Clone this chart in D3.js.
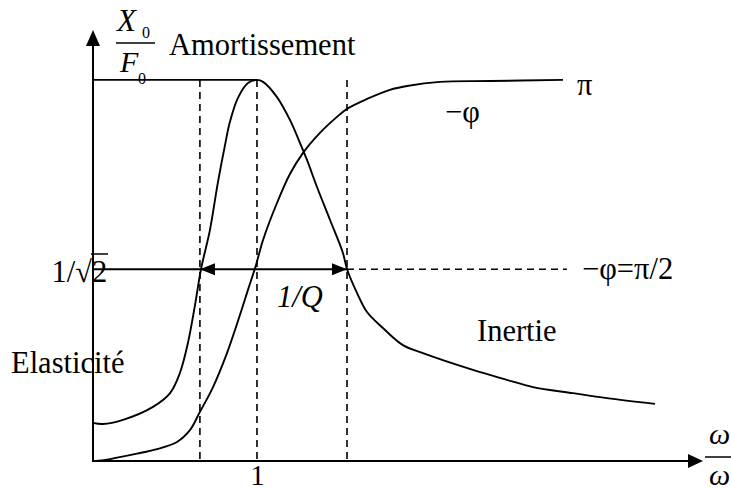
<!DOCTYPE html>
<html>
<head>
<meta charset="utf-8">
<script src="https://cdn.jsdelivr.net/npm/d3@7"></script>
<style>
  html, body { margin: 0; padding: 0; background: #fff; }
  svg { display: block; }
  text { font-family: "Liberation Serif", "Times New Roman", serif; fill: #000; }
</style>
</head>
<body>
<svg id="chart" width="731" height="490"></svg>
<script>
// Reduced frequency ω/ω0 and normalised response (amplitude X0/F0, phase −φ in units of π)
const amplitudeX = [0, 0.061, 0.183, 0.366, 0.470, 0.530, 0.579, 0.622, 0.659, 0.713, 0.762, 0.805, 0.835, 0.884, 0.945, 1.0,
                    1.037, 1.122, 1.201, 1.262, 1.305, 1.366, 1.445, 1.524, 1.549, 1.610, 1.671, 1.768, 1.890, 2.012, 2.317, 2.524, 2.683, 2.927, 3.134, 3.427];
const amplitudeY = [0.100, 0.097, 0.108, 0.142, 0.178, 0.231, 0.310, 0.409, 0.504, 0.606, 0.732, 0.829, 0.890, 0.953, 0.992, 1.0,
                    0.995, 0.955, 0.895, 0.835, 0.790, 0.719, 0.633, 0.546, 0.504, 0.441, 0.391, 0.349, 0.304, 0.283, 0.239, 0.213, 0.194, 0.178, 0.165, 0.150];
const phaseX = [0.018, 0.104, 0.287, 0.390, 0.512, 0.591, 0.652, 0.732, 0.817, 0.896, 0.945, 0.994, 1.037, 1.122, 1.201, 1.280, 1.384, 1.488, 1.549, 1.671, 1.811, 1.915, 2.116, 2.421, 2.866];
const phaseY = [0.0, 0.005, 0.021, 0.031, 0.050, 0.081, 0.129, 0.194, 0.283, 0.383, 0.449, 0.514, 0.580, 0.677, 0.753, 0.808, 0.861, 0.903, 0.924, 0.950, 0.974, 0.984, 0.995, 0.997, 1.0];
// Static level (low-frequency plateau), half-power level and the three marked frequencies
const plateauLevel = 1.0;
const halfPowerLevel = 0.503;
const markedFreqs = [0.652, 1.0, 1.549];   // ω1, ω0, ω2
const halfPowerDashEnd = 2.89;
const xTicks = [1];

const svg = d3.select("#chart");
const x = d3.scaleLinear().domain([0, 3.72]).range([93, 703]);
const y = d3.scaleLinear().domain([0, 1.131]).range([461, 30]);

const ink = "#000";
const line = d3.line().x(d => x(d[0])).y(d => y(d[1])).curve(d3.curveCatmullRom.alpha(0.5));

// arrowhead helper: triangle with tip at (tx, ty) pointing along direction (dx, dy)
function arrowHead(tx, ty, dx, dy, len = 15, half = 6) {
  const bx = tx - dx * len, by = ty - dy * len;
  const px = -dy * half, py = dx * half;
  return `M${tx},${ty}L${bx + px},${by + py}L${bx - px},${by - py}Z`;
}

// axes
svg.append("line").attr("x1", x(0)).attr("y1", y(0)).attr("x2", x(3.72) - 12).attr("y2", y(0))
  .attr("stroke", ink).attr("stroke-width", 2);
svg.append("path").attr("d", arrowHead(x(3.72), y(0), 1, 0, 15, 7)).attr("fill", ink);
svg.append("line").attr("x1", x(0)).attr("y1", y(0) + 1).attr("x2", x(0)).attr("y2", y(1.131) + 12)
  .attr("stroke", ink).attr("stroke-width", 2);
svg.append("path").attr("d", arrowHead(x(0), y(1.131), 0, -1, 16, 7)).attr("fill", ink);

// tick label on the frequency axis
const xAxis = d3.axisBottom(x).tickValues(xTicks).tickSize(0).tickPadding(3).tickFormat(d3.format("d"));
const gx = svg.append("g").attr("transform", `translate(0,${y(0)})`).call(xAxis);
gx.select(".domain").remove();
gx.selectAll("text").attr("font-size", 29).attr("font-family", "Liberation Serif").attr("fill", ink);

// dashed verticals at ω1, ω0, ω2
svg.selectAll("line.vdash").data(markedFreqs).enter().append("line")
  .attr("class", "vdash")
  .attr("x1", d => x(d)).attr("x2", d => x(d))
  .attr("y1", y(plateauLevel)).attr("y2", y(0))
  .attr("stroke", ink).attr("stroke-width", 1.6).attr("stroke-dasharray", "7,5");

// plateau line up to the resonance
svg.append("line").attr("x1", x(0)).attr("x2", x(1)).attr("y1", y(plateauLevel)).attr("y2", y(plateauLevel))
  .attr("stroke", ink).attr("stroke-width", 1.9);

// half-power line with the bandwidth double arrow
svg.append("line").attr("x1", x(0)).attr("x2", x(markedFreqs[2]))
  .attr("y1", y(halfPowerLevel)).attr("y2", y(halfPowerLevel))
  .attr("stroke", ink).attr("stroke-width", 1.9);
svg.append("line").attr("x1", x(markedFreqs[2])).attr("x2", x(halfPowerDashEnd))
  .attr("y1", y(halfPowerLevel)).attr("y2", y(halfPowerLevel))
  .attr("stroke", ink).attr("stroke-width", 1.5).attr("stroke-dasharray", "7,5");
svg.append("path").attr("d", arrowHead(x(markedFreqs[0]), y(halfPowerLevel), -1, 0)).attr("fill", ink);
svg.append("path").attr("d", arrowHead(x(markedFreqs[2]), y(halfPowerLevel), 1, 0)).attr("fill", ink);

// amplitude and phase curves
svg.append("path").datum(d3.zip(amplitudeX, amplitudeY)).attr("d", line)
  .attr("fill", "none").attr("stroke", ink).attr("stroke-width", 1.9);
svg.append("path").datum(d3.zip(phaseX, phaseY)).attr("d", line)
  .attr("fill", "none").attr("stroke", ink).attr("stroke-width", 1.9);

// labels
function label(txt, px, py, opts = {}) {
  return svg.append("text").attr("x", px).attr("y", py)
    .attr("font-size", opts.size || 30.5)
    .attr("font-style", opts.italic ? "italic" : "normal")
    .attr("text-anchor", opts.anchor || "start")
    .text(txt);
}
// X0 / F0 fraction
label("X", 117, 31, { italic: true, size: 31 });
label("0", 142, 38, { size: 16 });
svg.append("line").attr("x1", 116).attr("x2", 155).attr("y1", 43).attr("y2", 43)
  .attr("stroke", ink).attr("stroke-width", 1.5);
label("F", 120, 72, { italic: true, size: 30 });
label("0", 138, 84, { size: 16 });
label("Amortissement", 169, 55);

// 1/√2 with its radical bar
label("1/\u221A", 92, 282, { anchor: "end" });
label("2", 92, 282);
svg.append("line").attr("x1", 91).attr("x2", 108).attr("y1", 254).attr("y2", 254)
  .attr("stroke", ink).attr("stroke-width", 1.5);

label("1/Q", 277, 307, { italic: true });
label("\u2212\u03C6=\u03C0/2", 582, 279);
label("\u03C0", 577, 95);
label("\u2212\u03C6", 445, 122);
label("Inertie", 477, 341);
label("Elasticit\u00E9", 11, 373);

// ω/ω0 axis title
label("\u03C9", 709, 444, { italic: true, size: 30 });
svg.append("line").attr("x1", 705).attr("x2", 731).attr("y1", 457).attr("y2", 457)
  .attr("stroke", ink).attr("stroke-width", 1.5);
label("\u03C9", 709, 485, { italic: true, size: 30 });
</script>
</body>
</html>
